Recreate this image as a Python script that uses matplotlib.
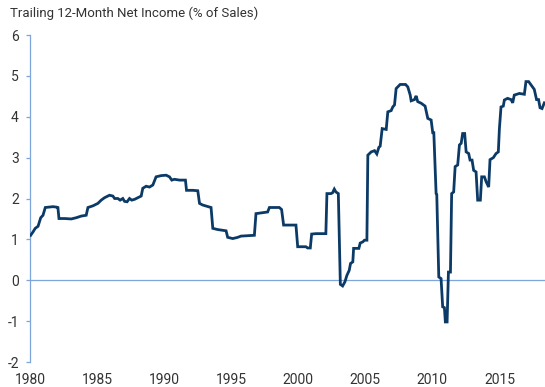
import matplotlib
matplotlib.use("Agg")
import matplotlib.pyplot as plt

plt.rcParams["font.family"] = ["Roboto", "Liberation Sans", "DejaVu Sans"]

TITLE = "Trailing 12-Month Net Income (% of Sales)"

# trailing net margin, read at each step change
years = [
    1980.05, 1980.22, 1980.39, 1980.60, 1980.80, 1980.97, 1981.14, 1981.71, 1981.96, 1982.08,
    1982.16, 1982.58, 1983.08, 1983.45, 1983.82, 1984.19, 1984.32, 1984.69, 1985.06, 1985.31,
    1985.56, 1985.93, 1986.18, 1986.31, 1986.55, 1986.72, 1986.92, 1987.05, 1987.24, 1987.42,
    1987.59, 1987.80, 1988.04, 1988.29, 1988.41, 1988.66, 1988.91, 1989.16, 1989.40, 1989.78,
    1990.15, 1990.40, 1990.57, 1990.77, 1991.15, 1991.59, 1991.67, 1992.14, 1992.51, 1992.64,
    1992.88, 1993.50, 1993.63, 1994.00, 1994.62, 1994.74, 1995.12, 1995.49, 1995.73, 1996.73,
    1996.85, 1997.72, 1997.85, 1998.59, 1998.76, 1998.91, 1999.83, 1999.96, 2000.57, 2000.70,
    2000.90, 2001.00, 2001.32, 2002.06, 2002.14, 2002.44, 2002.56, 2002.69, 2002.81, 2002.99,
    2003.14, 2003.31, 2003.48, 2003.63, 2003.80, 2003.90, 2004.07, 2004.13, 2004.52, 2004.62,
    2004.82, 2004.94, 2005.12, 2005.19, 2005.44, 2005.69, 2005.86, 2006.01, 2006.11, 2006.26,
    2006.56, 2006.68, 2006.93, 2007.05, 2007.18, 2007.30, 2007.60, 2008.00, 2008.17, 2008.35,
    2008.42, 2008.67, 2008.79, 2008.91, 2009.17, 2009.46, 2009.66, 2009.91, 2010.03, 2010.11,
    2010.28, 2010.33, 2010.48, 2010.65, 2010.77, 2010.90, 2010.97, 2011.10, 2011.20, 2011.35,
    2011.44, 2011.59, 2011.70, 2011.89, 2012.02, 2012.15, 2012.26, 2012.41, 2012.52, 2012.71,
    2012.81, 2012.96, 2013.08, 2013.26, 2013.38, 2013.58, 2013.68, 2013.88, 2014.01, 2014.20,
    2014.30, 2014.55, 2014.75, 2014.92, 2015.00, 2015.12, 2015.29, 2015.37, 2015.61, 2015.87,
    2015.99, 2016.11, 2016.49, 2016.86, 2016.98, 2017.18, 2017.36, 2017.60, 2017.77, 2017.92,
    2018.03, 2018.18, 2018.35,
]
net_margin = [
    1.10, 1.18, 1.27, 1.32, 1.53, 1.59, 1.78, 1.80, 1.79, 1.78,
    1.51, 1.51, 1.50, 1.53, 1.57, 1.59, 1.78, 1.82, 1.88, 1.96,
    2.02, 2.08, 2.06, 2.00, 2.00, 1.96, 2.00, 1.93, 1.92, 2.00,
    1.96, 1.98, 2.02, 2.06, 2.25, 2.30, 2.28, 2.33, 2.53, 2.56,
    2.57, 2.53, 2.45, 2.47, 2.45, 2.45, 2.20, 2.20, 2.19, 1.88,
    1.84, 1.78, 1.27, 1.24, 1.21, 1.05, 1.02, 1.05, 1.08, 1.10,
    1.63, 1.67, 1.78, 1.78, 1.73, 1.35, 1.35, 0.82, 0.82, 0.79,
    0.79, 1.13, 1.14, 1.14, 2.12, 2.12, 2.14, 2.23, 2.16, 2.12,
    -0.10, -0.14, -0.04, 0.12, 0.24, 0.41, 0.45, 0.78, 0.78, 0.91,
    0.94, 0.98, 0.98, 3.06, 3.14, 3.17, 3.09, 3.25, 3.28, 3.71,
    3.69, 4.12, 4.15, 4.24, 4.29, 4.69, 4.79, 4.79, 4.73, 4.53,
    4.39, 4.42, 4.51, 4.37, 4.33, 4.26, 3.96, 3.92, 3.61, 3.61,
    2.12, 2.10, 0.08, 0.04, -0.65, -0.67, -1.02, -1.02, 0.20, 0.20,
    2.12, 2.16, 2.78, 2.82, 3.31, 3.35, 3.59, 3.59, 3.14, 3.10,
    2.94, 2.94, 2.69, 2.65, 1.96, 1.96, 2.53, 2.53, 2.41, 2.28,
    2.95, 3.00, 3.10, 3.14, 3.71, 4.24, 4.26, 4.41, 4.45, 4.42,
    4.34, 4.53, 4.57, 4.55, 4.86, 4.86, 4.78, 4.67, 4.42, 4.42,
    4.22, 4.20, 4.34,
]

x_ticks = [1980, 1985, 1990, 1995, 2000, 2005, 2010, 2015]
y_ticks = [-2, -1, 0, 1, 2, 3, 4, 5, 6]

LINE = "#0c3a66"
AXIS = "#7ea6dc"
TEXT = "#333333"

fig = plt.figure(figsize=(5.45, 3.87), dpi=100)
ax = fig.add_axes([30 / 545, 1 - 362 / 387, 1 - 30 / 545, (362 - 35) / 387])

ax.plot(years, net_margin, color=LINE, lw=2.0, solid_joinstyle="miter", zorder=3)
ax.axhline(0, color=AXIS, lw=0.9, zorder=2)

ax.set_xlim(1980, 2018.4)
ax.set_ylim(-2, 6)
ax.set_xticks(x_ticks)
ax.set_xticklabels([str(y) for y in x_ticks])
ax.set_yticks(y_ticks)
ax.set_yticklabels([str(v) for v in y_ticks])

for side in ("top", "right", "bottom"):
    ax.spines[side].set_visible(False)
ax.spines["left"].set_color(AXIS)
ax.spines["left"].set_linewidth(0.9)

ax.tick_params(axis="y", length=3, width=0.9, color=AXIS, pad=5,
               labelsize=10, labelcolor=TEXT)
ax.tick_params(axis="x", length=0, pad=8, labelsize=10, labelcolor=TEXT)

fig.text(10 / 545, 1 - 13 / 387, TITLE, fontsize=9.5, color=TEXT,
         ha="left", va="center")

fig.savefig("out.png", dpi=100)
